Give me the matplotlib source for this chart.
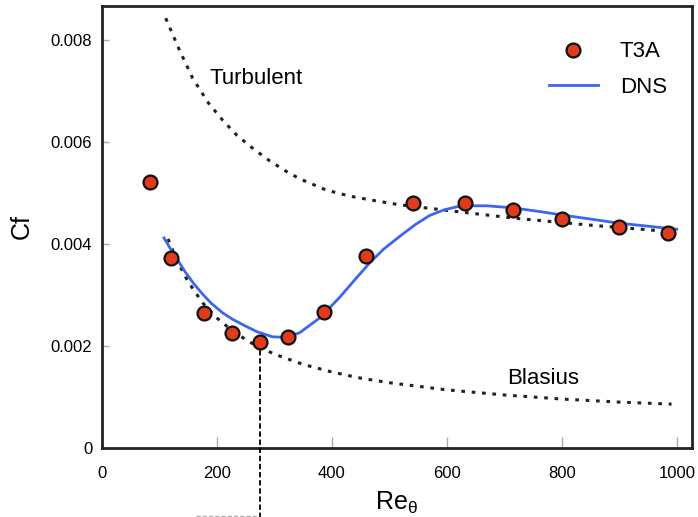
import matplotlib
matplotlib.use("Agg")
import matplotlib.pyplot as plt
from matplotlib.lines import Line2D

plt.rcParams['font.family'] = ['Liberation Sans', 'DejaVu Sans']
plt.rcParams['mathtext.default'] = 'regular'

# T3A experimental data
t3a_re = [84, 120, 177, 226, 275, 324, 386, 459, 542, 631, 715, 800, 900, 984]
t3a_cf = [0.00522, 0.00373, 0.00265, 0.00225, 0.00208, 0.00218, 0.00267, 0.00376,
          0.00481, 0.00481, 0.00466, 0.00450, 0.00434, 0.00421]

# DNS curve
dns_re = [108, 118, 130, 145, 160, 175, 190, 210, 228, 250, 270, 297, 320, 344, 380, 414,
          440, 465, 490, 518, 545, 570, 595, 617, 645, 670, 715, 760, 800, 850, 899, 950, 1000]
dns_cf = [0.00412, 0.00393, 0.00372, 0.00345, 0.00322, 0.00302, 0.00284, 0.00265, 0.00252,
          0.00239, 0.00228, 0.00218, 0.00217, 0.00226, 0.00256, 0.00296, 0.00330, 0.00362,
          0.00390, 0.00415, 0.00438, 0.00456, 0.00467, 0.00473, 0.00475, 0.00475, 0.00471,
          0.00464, 0.00457, 0.00449, 0.00441, 0.00435, 0.00429]

# Turbulent correlation
turb_re = [111, 135, 158, 185, 210, 235, 261, 292, 320, 344, 390, 431, 475, 518, 600, 715, 850, 993]
turb_cf = [0.00843, 0.00780, 0.00725, 0.00677, 0.00643, 0.00613, 0.00589, 0.00563, 0.00543,
           0.00528, 0.00506, 0.00494, 0.00485, 0.00477, 0.00466, 0.00451, 0.00437, 0.00424]

# Blasius
blas_re = [115, 130, 150, 175, 200, 230, 260, 300, 350, 400, 450, 500, 600, 700, 800, 900, 991]
blas_cf = [0.00410, 0.00369, 0.00326, 0.00285, 0.00255, 0.00227, 0.00206, 0.00184, 0.00164,
           0.00149, 0.00137, 0.00128, 0.00114, 0.00104, 0.00096, 0.00090, 0.00086]

x_ticks = [0, 200, 400, 600, 800, 1000]
y_ticks = [0, 0.002, 0.004, 0.006, 0.008]
y_labels = ['0', '0.002', '0.004', '0.006', '0.008']

fig = plt.figure(figsize=(6.98, 5.17), dpi=100)
ax = fig.add_axes([0.146, 0.1335, 0.845, 0.855])

dot = (0, (1.2, 2.2))
ax.plot(turb_re, turb_cf, color='#222222', lw=2.2, linestyle=dot, zorder=2)
ax.plot(blas_re, blas_cf, color='#222222', lw=2.2, linestyle=dot, zorder=2)
ax.plot(dns_re, dns_cf, color='#3d66f0', lw=2.0, zorder=3, solid_joinstyle='round')
ax.plot(t3a_re, t3a_cf, linestyle='none', marker='o', ms=10, mfc='#e23b1b',
        mec='#111111', mew=1.6, zorder=4)

# vertical marker line at the T3A minimum
ax.plot([t3a_re[4], t3a_re[4]], [t3a_cf[4], -0.00136], color='black', lw=1.3,
        linestyle=(0, (3, 1.5)), clip_on=False, zorder=3)
fig.add_artist(Line2D([196 / 698, 258 / 698], [1.5 / 517, 1.5 / 517], color='#aaaaaa',
                      lw=1.0, linestyle=(0, (3, 1.5))))

ax.set_xlim(0, 1026)
ax.set_ylim(0, 0.00867)
ax.set_xticks(x_ticks)
ax.set_xticklabels([str(v) for v in x_ticks])
ax.set_yticks(y_ticks)
ax.set_yticklabels(y_labels)
ax.tick_params(axis='x', direction='in', length=8, width=1, color='#aaaaaa',
               labelsize=12, pad=13)
ax.tick_params(axis='y', direction='in', length=5, width=1, color='#aaaaaa',
               labelsize=12, pad=7)
for s in ax.spines.values():
    s.set_linewidth(2)
    s.set_color('#222222')

ax.set_xlabel(r'Re$_\theta$', fontsize=18, labelpad=6)
ax.set_ylabel('Cf', fontsize=18, labelpad=12)

ax.text(268, 0.00725, 'Turbulent', fontsize=16, ha='center', va='center')
ax.text(767, 0.00137, 'Blasius', fontsize=16, ha='center', va='center')

h1 = Line2D([], [], linestyle='none', marker='o', ms=10, mfc='#e23b1b', mec='#111111', mew=1.6)
h2 = Line2D([], [], color='#3d66f0', lw=2.0)
ax.legend([h1, h2], ['T3A', 'DNS'], frameon=False, fontsize=16, loc='upper right',
          bbox_to_anchor=(0.992, 0.965), handlelength=2.2, handletextpad=1.0,
          labelspacing=0.65)

fig.savefig('out.png', dpi=100)
